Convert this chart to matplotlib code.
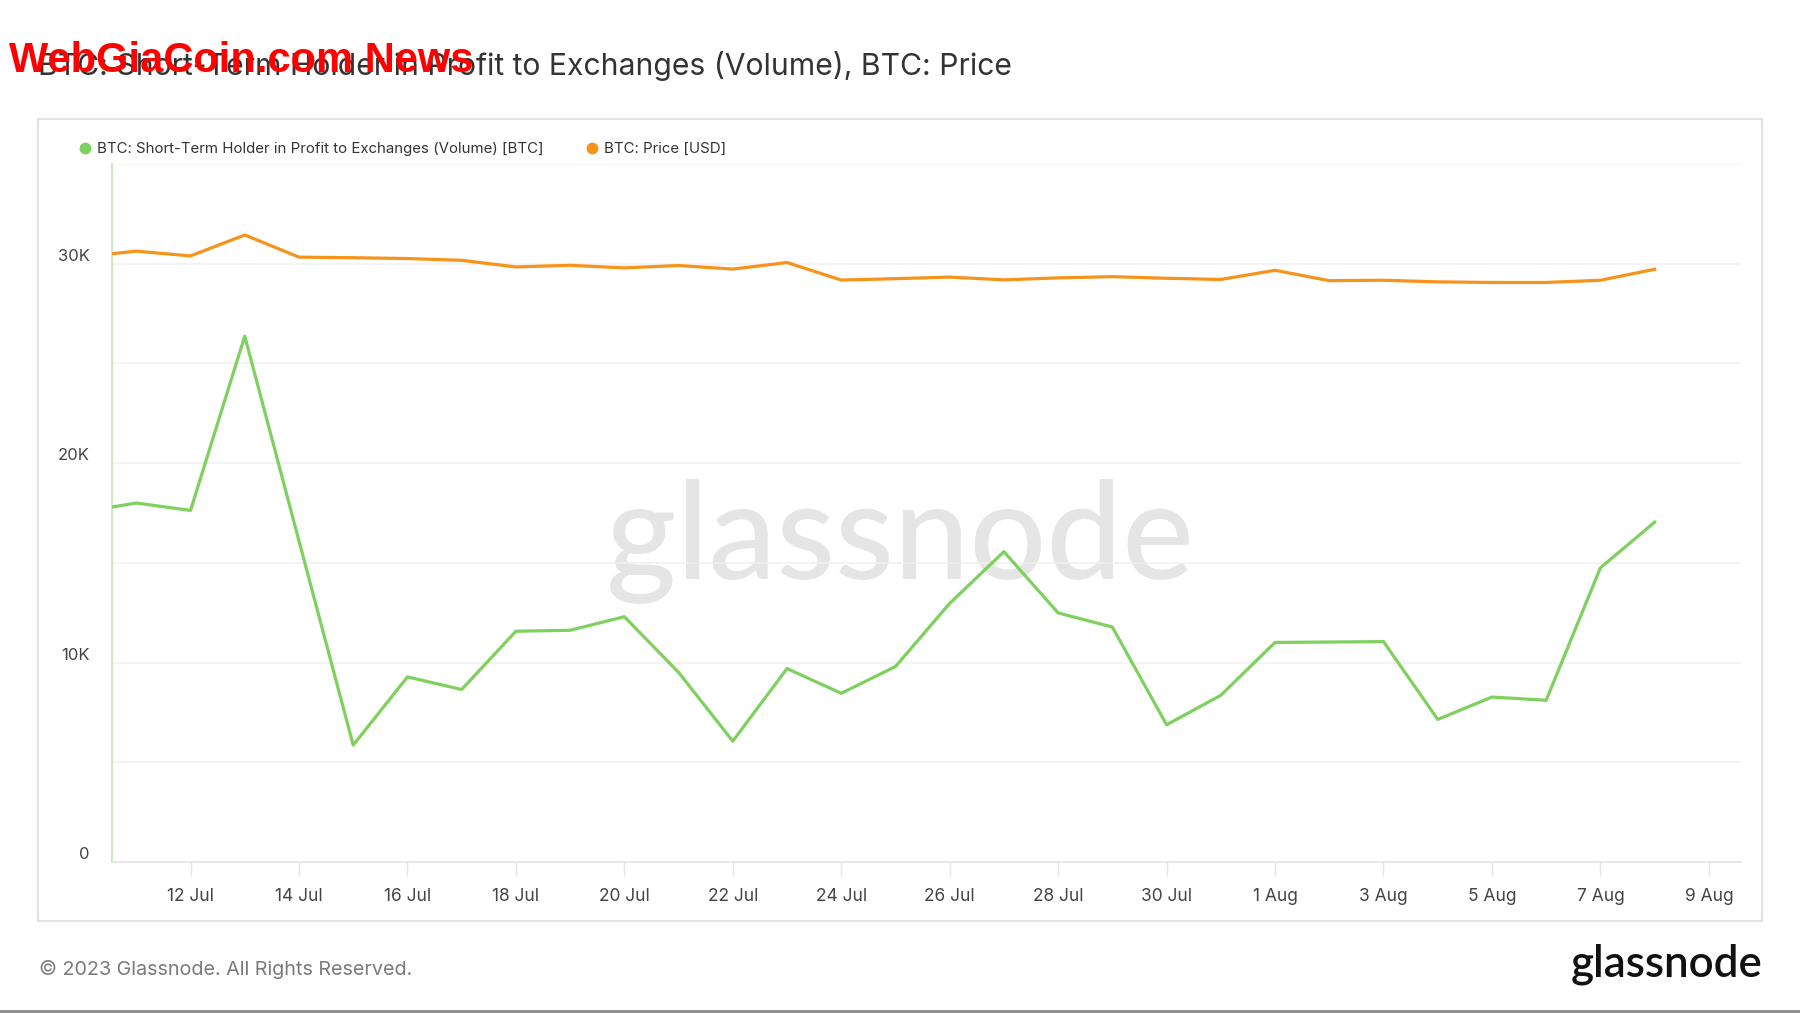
import pandas as pd
import matplotlib
matplotlib.use("Agg")
import matplotlib.pyplot as plt
import matplotlib.dates as mdates
import matplotlib.ticker as mtick
from matplotlib.lines import Line2D
from matplotlib.patches import Rectangle

plt.rcParams['font.family'] = ['Inter', 'DejaVu Sans']

# daily values, 10 Jul 2023 .. 8 Aug 2023 (in thousands)
dates = pd.date_range('2023-07-10', '2023-08-08', freq='D')
sth_volume_k = [17.55, 18.0, 17.63, 26.37, 16.1, 5.86, 9.28, 8.65, 11.57, 11.62,
                12.3, 9.51, 6.06, 9.7, 8.46, 9.8, 12.97, 15.56, 12.49, 11.78,
                6.88, 8.36, 11.01, 11.03, 11.05, 7.15, 8.27, 8.11, 14.75, 17.04]
price_k = [30.34, 30.63, 30.39, 31.44, 30.33, 30.30, 30.26, 30.17, 29.84, 29.92,
           29.79, 29.91, 29.73, 30.06, 29.18, 29.25, 29.33, 29.19, 29.29, 29.35,
           29.27, 29.21, 29.67, 29.15, 29.17, 29.09, 29.06, 29.06, 29.17, 29.72]
sth_volume = [v * 1000 for v in sth_volume_k]
price = [v * 1000 for v in price_k]

series_names = ['BTC: Short-Term Holder in Profit to Exchanges (Volume) [BTC]', 'BTC: Price [USD]']
title = 'BTC: Short-Term Holder in Profit to Exchanges (Volume), BTC: Price'
tick_dates = pd.date_range('2023-07-12', '2023-08-09', freq='2D')

GREEN = '#7ed05f'
ORANGE = '#f7931a'

W, H = 1800, 1013
fig = plt.figure(figsize=(W / 100, H / 100), dpi=100)
fig.patch.set_facecolor('white')

ax = fig.add_axes([111.8 / W, 1 - 862 / H, (1741 - 111.8) / W, (862 - 164) / H])

ax.plot(dates, sth_volume, color=GREEN, lw=2.3, zorder=4)
ax.plot(dates, price, color=ORANGE, lw=2.3, zorder=4)

x0 = mdates.date2num(pd.Timestamp('2023-07-11')) - 0.452
x1 = mdates.date2num(pd.Timestamp('2023-08-09')) + 0.593
ax.set_xlim(x0, x1)
ax.set_ylim(0, 35000)

ax.yaxis.set_major_locator(mtick.MultipleLocator(10000))
ax.yaxis.set_minor_locator(mtick.MultipleLocator(5000))
ax.yaxis.set_major_formatter(mtick.FuncFormatter(lambda v, p: '0' if v == 0 else f'{int(v/1000)}K'))
ax.grid(True, axis='y', which='both', color='#f0f0f0', lw=1.1, zorder=0)
ax.tick_params(axis='y', which='both', length=0, pad=16, labelsize=12, labelcolor='#444444')
for lab in ax.get_yticklabels():
    lab.set_va('bottom')

ax.set_xticks(tick_dates)
ax.xaxis.set_major_formatter(mdates.DateFormatter('%-d %b'))
ax.tick_params(axis='x', length=10, width=1, color='#e6e6e6', pad=9,
               labelsize=12.5, labelcolor='#444444')

for s in ['top', 'right']:
    ax.spines[s].set_visible(False)
ax.spines['left'].set_color('#bfe6ad')
ax.spines['left'].set_linewidth(1.2)
ax.spines['bottom'].set_color('#e3e3e3')
ax.spines['bottom'].set_linewidth(1.2)

# watermark inside the plot
wm = ax.text(900 / W, 1 - 578.6 / H, 'glassnode', transform=fig.transFigure,
             ha='center', va='baseline', fontsize=90, color='#e5e5e5', zorder=1,
             fontweight='medium', family=['Lato', 'DejaVu Sans'])

# legend
handles = [Line2D([], [], ls='none', marker='o', ms=7.5, color=GREEN),
           Line2D([], [], ls='none', marker='o', ms=7.5, color=ORANGE)]
fig.legend(handles, series_names, loc='center left', bbox_to_anchor=(81 / W, 1 - 149 / H),
           ncol=2, frameon=False, fontsize=10.8, handlelength=0.5, handletextpad=0.55,
           columnspacing=3.0, labelcolor='#333333', borderaxespad=0, borderpad=0)

# chart frame
fig.add_artist(Rectangle((38 / W, 1 - 921 / H), (1762 - 38) / W, (921 - 119) / H,
                         transform=fig.transFigure, fill=False, ec='#e3e3e3', lw=1.5))

# texts
t_title = fig.text(38 / W, 1 - 66 / H, title, ha='left', va='center', fontsize=21, color='#333333')
t_foot = fig.text(39 / W, 1 - 975 / H, '\u00a9 2023 Glassnode. All Rights Reserved.',
                  ha='left', va='baseline', fontsize=14.5, color='#7a7a7a')
t_logo = fig.text(1762 / W, 1 - 976.7 / H, 'glassnode', ha='right', va='baseline',
                  fontsize=26, color='#111111', fontweight='semibold', family=['Lato', 'DejaVu Sans'])
t_red = fig.text(9 / W, 1 - 72 / H, 'WebGiaCoin.com News', ha='left', va='baseline',
                 fontsize=34, color='#ff0000', fontweight='bold',
                 family=['Liberation Sans Narrow', 'Liberation Sans', 'DejaVu Sans'])

fig.add_artist(Line2D([0, 1], [1 - 1011 / H, 1 - 1011 / H], transform=fig.transFigure,
                      color='#8a8a8a', lw=2))

# scale the free texts to their measured widths
fig.canvas.draw()
r = fig.canvas.get_renderer()
for t, target in [(t_title, 974), (t_foot, 374), (t_logo, 192), (t_red, 464), (wm, 588)]:
    w = t.get_window_extent(r).width
    t.set_fontsize(t.get_fontsize() * target / w)

fig.savefig('out.png', dpi=100, facecolor='white')
